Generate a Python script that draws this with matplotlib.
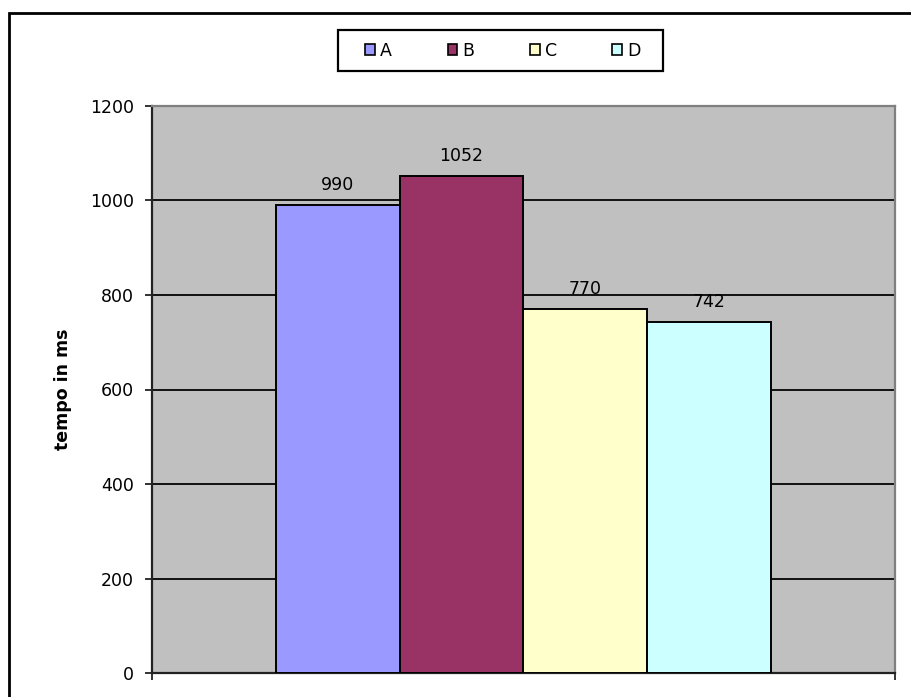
import matplotlib.pyplot as plt
from matplotlib.patches import Rectangle

plt.rcParams['font.family'] = ['DejaVu Sans']

series = ['A', 'B', 'C', 'D']
tempi = [990, 1052, 770, 742]
colori = ['#9999FF', '#993366', '#FFFFCC', '#CCFFFF']
yticks = [0, 200, 400, 600, 800, 1000, 1200]

fig = plt.figure(figsize=(9.12, 6.97), dpi=100)
ax = fig.add_axes([152 / 912, 24 / 697, 743 / 912, 567 / 697])
ax.set_facecolor('#C0C0C0')

# one series per bar, side by side like a clustered column chart
bars = []
for i, (nome, t, c) in enumerate(zip(series, tempi, colori)):
    b = ax.bar(i, t, width=1.0, color=c, edgecolor='black', linewidth=1.4,
               label=nome, zorder=3)
    bars.append(b)
    ax.annotate(str(t), (i, t), xytext=(0, 8), textcoords='offset points',
                ha='center', va='bottom', fontsize=12.5, zorder=4)

ax.set_xlim(-1.5, 4.5)
ax.set_ylim(0, 1200)
ax.set_yticks(yticks)
ax.set_xticks([-1.5, 4.5])
ax.set_xticklabels([])
ax.tick_params(axis='x', direction='out', length=5, width=1.4, color='#333333')
ax.tick_params(axis='y', direction='out', length=5, width=1.4, color='#333333',
               labelsize=12.5, pad=8)
ax.yaxis.grid(True, color='#111111', linewidth=1.4, zorder=1)
ax.set_axisbelow(True)

for lato in ['left', 'bottom']:
    ax.spines[lato].set_color('#222222')
    ax.spines[lato].set_linewidth(1.6)
for lato in ['top', 'right']:
    ax.spines[lato].set_color('#808080')
    ax.spines[lato].set_linewidth(1.6)

ax.set_ylabel('tempo in ms', fontsize=12.5, fontweight='bold', labelpad=13)

leg = fig.legend(handles=[b[0] for b in bars], labels=series, ncol=4,
                 loc='center', bbox_to_anchor=(503 / 912, 1 - 50.5 / 697),
                 fontsize=12.5, frameon=False, handlelength=0.55,
                 handleheight=0.55, handletextpad=0.3, columnspacing=3.2,
                 borderaxespad=0)
for h in leg.legend_handles:
    h.set_linewidth(1.2)

# legend frame and chart border
fig.patches.append(Rectangle((338 / 912, 1 - 71 / 697), 325 / 912, 41 / 697,
                             transform=fig.transFigure, fill=False,
                             edgecolor='black', linewidth=1.6))
fig.patches.append(Rectangle((9 / 912, -0.1), 1.2, 1 - 13 / 697 + 0.1,
                             transform=fig.transFigure, fill=False,
                             edgecolor='black', linewidth=2))

fig.savefig('out.png', dpi=100)
